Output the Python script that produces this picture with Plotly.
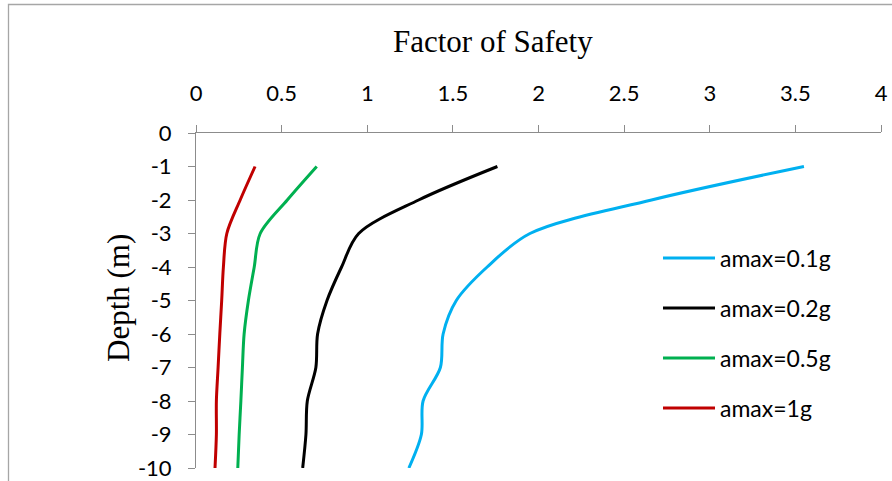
import plotly.graph_objects as go

# Depth below ground surface (m)
depth = [-1, -2, -3, -4, -5, -6, -7, -8, -9, -10]

# Factor of safety against liquefaction for each peak ground acceleration
fos_01g = [3.55, 2.66, 1.95, 1.70, 1.52, 1.443, 1.427, 1.326, 1.316, 1.243]
fos_02g = [1.76, 1.30, 0.95, 0.85, 0.765, 0.71, 0.70, 0.65, 0.642, 0.623]
fos_05g = [0.705, 0.533, 0.375, 0.34, 0.306, 0.281, 0.271, 0.262, 0.252, 0.244]
fos_1g = [0.345, 0.258, 0.18, 0.16, 0.15, 0.139, 0.129, 0.119, 0.119, 0.111]

series_names = ["amax=0.1g", "amax=0.2g", "amax=0.5g", "amax=1g"]
series_values = [fos_01g, fos_02g, fos_05g, fos_1g]
series_colors = ["#00B0F0", "#000000", "#00B050", "#C00000"]

x_ticks = [0, 0.5, 1, 1.5, 2, 2.5, 3, 3.5, 4]
x_tick_text = ["0", "0.5", "1", "1.5", "2", "2.5", "3", "3.5", "4"]
y_ticks = [0, -1, -2, -3, -4, -5, -6, -7, -8, -9, -10]
y_tick_text = ["0", "-1", "-2", "-3", "-4", "-5", "-6", "-7", "-8", "-9", "-10"]

W, H = 892, 481
L, R, T, B = 196, 11, 133, 13
PW, PH = W - L - R, H - T - B


def px(x):
    return (x - L) / PW


def py(y):
    return (H - B - y) / PH


fig = go.Figure()
for name, vals, col in zip(series_names, series_values, series_colors):
    fig.add_trace(go.Scatter(
        x=vals, y=depth, mode="lines", name=name,
        line=dict(color=col, width=3, shape="spline", smoothing=0.9),
        showlegend=False,
    ))

axis_grey = "#8C8C8C"
tick_font = dict(family="Lato, Carlito, sans-serif", size=22, color="#000000")

fig.update_layout(
    width=W, height=H,
    margin=dict(l=L, r=R, t=T, b=B, autoexpand=False),
    paper_bgcolor="white", plot_bgcolor="white",
    xaxis=dict(
        range=[0, 4], side="top", tickvals=x_ticks, ticktext=x_tick_text,
        showgrid=False, zeroline=False, showline=True, linecolor=axis_grey,
        linewidth=1, ticks="outside", ticklen=7, tickcolor=axis_grey,
        tickfont=tick_font, ticklabelstandoff=15,
    ),
    yaxis=dict(
        range=[-10, 0], tickvals=y_ticks, ticktext=y_tick_text,
        showgrid=False, zeroline=False, showline=True, linecolor=axis_grey,
        linewidth=1, ticks="outside", ticklen=7, tickcolor=axis_grey,
        tickfont=tick_font, ticklabelstandoff=12,
    ),
)

# Chart title and depth axis title
fig.add_annotation(
    text="Factor of Safety", xref="paper", yref="paper",
    x=px(493), y=py(42), showarrow=False, xanchor="center", yanchor="middle",
    font=dict(family="Liberation Serif, Times New Roman, serif", size=31, color="#000000"),
)
fig.add_annotation(
    text="Depth (m)", xref="paper", yref="paper",
    x=px(118), y=py(298), showarrow=False, xanchor="center", yanchor="middle",
    textangle=-90,
    font=dict(family="Liberation Serif, Times New Roman, serif", size=31, color="#000000"),
)

# Legend drawn as line samples with labels
for i, (name, col) in enumerate(zip(series_names, series_colors)):
    yrow = 258 + 50 * i
    fig.add_shape(
        type="line", xref="paper", yref="paper",
        x0=px(663), x1=px(715), y0=py(yrow), y1=py(yrow),
        line=dict(color=col, width=3),
    )
    fig.add_annotation(
        text=name, xref="paper", yref="paper", x=px(718), y=py(yrow),
        showarrow=False, xanchor="left", yanchor="middle",
        font=dict(family="Lato, Carlito, sans-serif", size=23, color="#000000"),
    )

# Chart area border
fig.add_shape(
    type="rect", xref="paper", yref="paper",
    x0=px(8.5), x1=px(905), y0=py(4.5), y1=py(500),
    line=dict(color="#A6A6A6", width=1.3), fillcolor="rgba(0,0,0,0)", layer="below",
)

fig.write_html("out.html")
